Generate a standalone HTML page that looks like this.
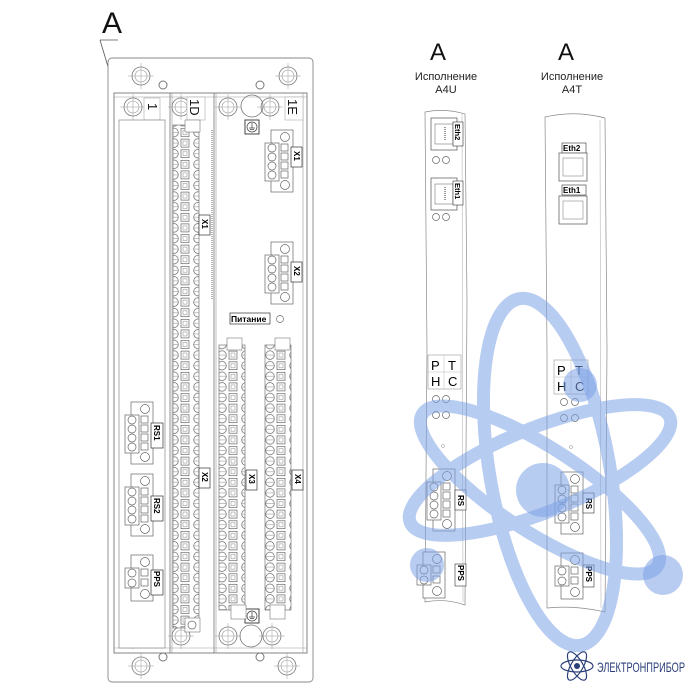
<!DOCTYPE html>
<html><head><meta charset="utf-8"><style>
html,body{margin:0;padding:0;background:#fff;width:700px;height:700px;overflow:hidden}
svg text{font-family:"Liberation Sans",sans-serif}
</style></head><body>
<svg width="700" height="700" viewBox="0 0 700 700" xmlns="http://www.w3.org/2000/svg">
<defs>
<pattern id="term" x="0" y="0" width="24" height="10.6" patternUnits="userSpaceOnUse">
<rect x="0" y="0" width="24" height="10.6" fill="#fff"/>
<circle cx="6" cy="5.3" r="4.3" fill="none" stroke="#666" stroke-width="0.7"/>
<line x1="1.7" y1="5.3" x2="10.3" y2="5.3" stroke="#888" stroke-width="0.5"/>
<rect x="13" y="1.3" width="8" height="8" fill="none" stroke="#666" stroke-width="0.7"/>
<rect x="15" y="3.3" width="4" height="4" fill="none" stroke="#888" stroke-width="0.5"/>
</pattern>
<g id="c4">
<rect x="6" y="0" width="22" height="62" fill="#fff" stroke="#666" stroke-width="0.7"/>
<circle cx="20" cy="7" r="4.5" fill="none" stroke="#666" stroke-width="0.7"/>
<circle cx="20" cy="55" r="4.5" fill="none" stroke="#666" stroke-width="0.7"/>
<rect x="0" y="13" width="14" height="38" fill="#fff" stroke="#666" stroke-width="0.7"/>
<circle cx="7" cy="18" r="4" fill="none" stroke="#666" stroke-width="0.7"/>
<circle cx="7" cy="27" r="4" fill="none" stroke="#666" stroke-width="0.7"/>
<circle cx="7" cy="36" r="4" fill="none" stroke="#666" stroke-width="0.7"/>
<circle cx="7" cy="45" r="4" fill="none" stroke="#666" stroke-width="0.7"/>
<rect x="16" y="14" width="7" height="7" fill="none" stroke="#666" stroke-width="0.7"/>
<rect x="16" y="23" width="7" height="7" fill="none" stroke="#666" stroke-width="0.7"/>
<rect x="16" y="32" width="7" height="7" fill="none" stroke="#666" stroke-width="0.7"/>
<rect x="16" y="41" width="7" height="7" fill="none" stroke="#666" stroke-width="0.7"/>
</g>
<g id="c2">
<rect x="6" y="0" width="22" height="46" fill="#fff" stroke="#666" stroke-width="0.7"/>
<circle cx="20" cy="7" r="4.5" fill="none" stroke="#666" stroke-width="0.7"/>
<circle cx="20" cy="39" r="4.5" fill="none" stroke="#666" stroke-width="0.7"/>
<rect x="0" y="13" width="14" height="20" fill="#fff" stroke="#666" stroke-width="0.7"/>
<circle cx="7" cy="18" r="4" fill="none" stroke="#666" stroke-width="0.7"/>
<circle cx="7" cy="28" r="4" fill="none" stroke="#666" stroke-width="0.7"/>
<rect x="16" y="14" width="7" height="7" fill="none" stroke="#666" stroke-width="0.7"/>
<rect x="16" y="24" width="7" height="7" fill="none" stroke="#666" stroke-width="0.7"/>
</g>
<g id="hole"><circle r="9" fill="none" stroke="#777" stroke-width="0.8"/><circle r="6" fill="none" stroke="#999" stroke-width="0.6"/><line x1="-13" y1="0" x2="13" y2="0" stroke="#999" stroke-width="0.5"/><line x1="0" y1="-13" x2="0" y2="13" stroke="#999" stroke-width="0.5"/></g>
<g id="gnd"><rect x="-7" y="-7" width="14" height="14" fill="#fff" stroke="#333" stroke-width="0.9"/><circle r="5" fill="none" stroke="#333" stroke-width="0.7"/><line x1="0" y1="-4" x2="0" y2="1" stroke="#333" stroke-width="0.7"/><line x1="-3" y1="1" x2="3" y2="1" stroke="#333" stroke-width="0.7"/><line x1="-2" y1="2.5" x2="2" y2="2.5" stroke="#333" stroke-width="0.7"/></g>
<g id="rj"><rect x="0" y="0" width="26" height="32" fill="#fff" stroke="#666" stroke-width="0.8"/><rect x="4" y="6" width="18" height="20" fill="none" stroke="#777" stroke-width="0.6"/><line x1="14" y1="9" x2="14" y2="23" stroke="#999" stroke-width="2" stroke-dasharray="1 1"/></g>
</defs>

<!-- Main chassis -->
<text x="102" y="33" font-size="30" fill="#111">A</text>
<line x1="100" y1="40" x2="124" y2="120" stroke="#555" stroke-width="0.8"/>
<line x1="100" y1="40" x2="118" y2="40" stroke="#555" stroke-width="0.8"/>
<rect x="108" y="58" width="205" height="624" rx="4" fill="#fff" stroke="#888" stroke-width="0.9"/>
<use href="#hole" x="141" y="76"/><use href="#hole" x="288" y="76"/>
<use href="#hole" x="141" y="666"/><use href="#hole" x="287" y="666"/>
<circle cx="163" cy="85" r="4" fill="none" stroke="#777" stroke-width="1"/>
<circle cx="260" cy="85" r="4" fill="none" stroke="#777" stroke-width="1"/>
<circle cx="163" cy="657" r="4" fill="none" stroke="#777" stroke-width="1"/>
<circle cx="260" cy="657" r="4" fill="none" stroke="#777" stroke-width="1"/>
<rect x="114" y="93" width="193" height="560" fill="none" stroke="#777" stroke-width="0.9"/>
<line x1="114" y1="97" x2="307" y2="97" stroke="#999" stroke-width="0.6"/>
<line x1="114" y1="648" x2="307" y2="648" stroke="#999" stroke-width="0.6"/>
<line x1="170" y1="93" x2="170" y2="653" stroke="#777" stroke-width="0.8"/>
<line x1="172" y1="93" x2="172" y2="653" stroke="#999" stroke-width="0.6"/>
<line x1="214" y1="93" x2="214" y2="653" stroke="#777" stroke-width="0.8"/>
<line x1="216" y1="93" x2="216" y2="653" stroke="#999" stroke-width="0.6"/>
<line x1="303" y1="93" x2="303" y2="653" stroke="#999" stroke-width="0.6"/>
<!-- top screws -->
<use href="#hole" x="133" y="107"/><use href="#hole" x="181" y="107"/><use href="#hole" x="228" y="107"/><use href="#hole" x="270" y="107"/>
<circle cx="252" cy="106" r="11" fill="none" stroke="#777" stroke-width="0.8"/>
<use href="#hole" x="133" y="636"/><use href="#hole" x="181" y="636"/><use href="#hole" x="228" y="636"/><use href="#hole" x="272" y="636"/>
<circle cx="251" cy="636" r="11" fill="none" stroke="#777" stroke-width="0.8"/>
<!-- labels -->
<rect x="144" y="98" width="16" height="22" fill="#fff" stroke="#aaa" stroke-width="0.6"/>
<text transform="translate(148,103) rotate(90)" font-size="13" fill="#111">1</text>
<rect x="187" y="97" width="18" height="23" fill="#fff" stroke="#aaa" stroke-width="0.6"/>
<text transform="translate(190,99) rotate(90)" font-size="13" fill="#111">1D</text>
<rect x="285" y="97" width="18" height="23" fill="#fff" stroke="#aaa" stroke-width="0.6"/>
<text transform="translate(288,99) rotate(90)" font-size="13" fill="#111">1E</text>
<use href="#gnd" x="252" y="127"/>
<use href="#gnd" x="252" y="616"/>
<!-- slot 1 -->
<rect x="119" y="120" width="46" height="528" fill="#fff" stroke="#888" stroke-width="0.7"/>
<use href="#c4" x="125" y="402"/>
<rect x="151" y="423" width="12" height="25" fill="#fff" stroke="#333" stroke-width="0.7"/>
<text transform="translate(154,425) rotate(90)" font-size="8" font-weight="bold">RS1</text>
<use href="#c4" x="125" y="474"/>
<rect x="151" y="496" width="12" height="25" fill="#fff" stroke="#333" stroke-width="0.7"/>
<text transform="translate(154,498) rotate(90)" font-size="8" font-weight="bold">RS2</text>
<use href="#c2" x="125" y="555"/>
<rect x="151" y="570" width="12" height="25" fill="#fff" stroke="#333" stroke-width="0.7"/>
<text transform="translate(154,571) rotate(90)" font-size="8" font-weight="bold">PPS</text>
<!-- slot 1D columns -->
<rect x="173" y="125" width="26" height="503" fill="url(#term)" stroke="#777" stroke-width="0.7"/>
<rect x="185" y="120" width="15" height="12" fill="#fff" stroke="#777" stroke-width="0.6"/>
<rect x="185" y="618" width="15" height="14" fill="#fff" stroke="#777" stroke-width="0.6"/>
<circle cx="192" cy="625" r="4" fill="none" stroke="#666" stroke-width="0.7"/>
<rect x="199" y="215" width="11" height="20" fill="#fff" stroke="#333" stroke-width="0.7"/>
<text transform="translate(202,219) rotate(90)" font-size="8" font-weight="bold">X1</text>
<rect x="199" y="468" width="11" height="20" fill="#fff" stroke="#333" stroke-width="0.7"/>
<text transform="translate(202,472) rotate(90)" font-size="8" font-weight="bold">X2</text>
<!-- slot 1E -->
<line x1="212" y1="130" x2="212" y2="300" stroke="#666" stroke-width="1" stroke-dasharray="1 1"/>
<use href="#c4" x="265" y="130" transform="scale(1)"/>
<rect x="291" y="147" width="11" height="20" fill="#fff" stroke="#333" stroke-width="0.7"/>
<text transform="translate(294,151) rotate(90)" font-size="8" font-weight="bold">X1</text>
<use href="#c4" x="265" y="242"/>
<rect x="291" y="262" width="11" height="20" fill="#fff" stroke="#333" stroke-width="0.7"/>
<text transform="translate(294,266) rotate(90)" font-size="8" font-weight="bold">X2</text>
<rect x="230" y="313" width="40" height="11" fill="#fff" stroke="#333" stroke-width="0.7"/>
<text x="231" y="322" font-size="8.5" font-weight="bold">Питание</text>
<circle cx="280" cy="319" r="3.5" fill="none" stroke="#777" stroke-width="0.7"/>
<rect x="219" y="345" width="26" height="265" fill="url(#term)" stroke="#777" stroke-width="0.7"/>
<rect x="227" y="338" width="15" height="12" fill="#fff" stroke="#777" stroke-width="0.6"/>
<rect x="231" y="605" width="15" height="14" fill="#fff" stroke="#777" stroke-width="0.6"/>
<rect x="246" y="470" width="11" height="20" fill="#fff" stroke="#333" stroke-width="0.7"/>
<text transform="translate(249,474) rotate(90)" font-size="8" font-weight="bold">X3</text>
<rect x="265" y="345" width="26" height="265" fill="url(#term)" stroke="#777" stroke-width="0.7"/>
<rect x="275" y="338" width="15" height="12" fill="#fff" stroke="#777" stroke-width="0.6"/>
<rect x="270" y="605" width="15" height="14" fill="#fff" stroke="#777" stroke-width="0.6"/>
<rect x="292" y="470" width="11" height="20" fill="#fff" stroke="#333" stroke-width="0.7"/>
<text transform="translate(295,474) rotate(90)" font-size="8" font-weight="bold">X4</text>

<!-- A4U -->
<text x="430" y="60" font-size="24" fill="#111">A</text>
<text x="446" y="80" font-size="11" text-anchor="middle" fill="#222">Исполнение</text>
<text x="446" y="93" font-size="11" text-anchor="middle" fill="#222">A4U</text>
<path d="M425 112 Q445 108 465 114 L467 300 L465 605 Q445 598 425 602 L427 350 Z" fill="#fff" stroke="#888" stroke-width="0.7"/>
<line x1="462" y1="114" x2="463" y2="602" stroke="#aaa" stroke-width="0.5"/>
<use href="#rj" x="431" y="118"/>
<rect x="453" y="122" width="10" height="24" fill="#fff" stroke="#333" stroke-width="0.6"/>
<text transform="translate(455,124) rotate(90)" font-size="7.5" font-weight="bold">Eth2</text>
<circle cx="436" cy="160" r="3.5" fill="none" stroke="#666" stroke-width="0.7"/><circle cx="446" cy="160" r="3.5" fill="none" stroke="#666" stroke-width="0.7"/>
<use href="#rj" x="431" y="178"/>
<rect x="453" y="181" width="10" height="24" fill="#fff" stroke="#333" stroke-width="0.6"/>
<text transform="translate(455,183) rotate(90)" font-size="7.5" font-weight="bold">Eth1</text>
<circle cx="436" cy="217" r="3.5" fill="none" stroke="#666" stroke-width="0.7"/><circle cx="446" cy="217" r="3.5" fill="none" stroke="#666" stroke-width="0.7"/>
<rect x="428" y="355" width="33" height="34" fill="#fff" stroke="#999" stroke-width="0.6"/>
<line x1="444" y1="355" x2="444" y2="389" stroke="#bbb" stroke-width="0.5"/><line x1="428" y1="372" x2="461" y2="372" stroke="#bbb" stroke-width="0.5"/>
<text x="431" y="370" font-size="13">P</text><text x="448" y="370" font-size="13">T</text>
<text x="431" y="386" font-size="13">H</text><text x="448" y="386" font-size="13">C</text>
<circle cx="436" cy="399" r="3.5" fill="none" stroke="#666" stroke-width="0.7"/><circle cx="446" cy="399" r="3.5" fill="none" stroke="#666" stroke-width="0.7"/>
<circle cx="436" cy="415" r="3.5" fill="none" stroke="#666" stroke-width="0.7"/><circle cx="446" cy="415" r="3.5" fill="none" stroke="#666" stroke-width="0.7"/>
<circle cx="443" cy="446" r="1.5" fill="none" stroke="#888" stroke-width="0.5"/>
<use href="#c4" x="427" y="469"/>
<rect x="455" y="490" width="11" height="20" fill="#fff" stroke="#333" stroke-width="0.6"/>
<text transform="translate(458,495) rotate(90)" font-size="8" font-weight="bold">RS</text>
<use href="#c2" x="417" y="552"/>
<rect x="455" y="564" width="11" height="22" fill="#fff" stroke="#333" stroke-width="0.6"/>
<text transform="translate(458,565) rotate(90)" font-size="8" font-weight="bold">PPS</text>

<!-- A4T -->
<text x="558" y="60" font-size="24" fill="#111">A</text>
<text x="572" y="80" font-size="11" text-anchor="middle" fill="#222">Исполнение</text>
<text x="572" y="93" font-size="11" text-anchor="middle" fill="#222">A4T</text>
<path d="M545 117 Q575 110 605 118 L607 350 L605 612 Q575 605 547 608 L547 350 Z" fill="#fff" stroke="#888" stroke-width="0.7"/>
<line x1="600" y1="120" x2="601" y2="608" stroke="#aaa" stroke-width="0.5"/>
<rect x="562" y="143" width="24" height="10" fill="#fff" stroke="#333" stroke-width="0.6"/>
<text x="563" y="151" font-size="8" font-weight="bold">Eth2</text>
<rect x="559" y="153" width="28" height="28" fill="#fff" stroke="#666" stroke-width="0.8"/>
<rect x="563" y="158" width="20" height="18" fill="none" stroke="#888" stroke-width="0.6"/>
<rect x="562" y="185" width="24" height="10" fill="#fff" stroke="#333" stroke-width="0.6"/>
<text x="563" y="193" font-size="8" font-weight="bold">Eth1</text>
<rect x="559" y="196" width="28" height="28" fill="#fff" stroke="#666" stroke-width="0.8"/>
<rect x="563" y="201" width="20" height="18" fill="none" stroke="#888" stroke-width="0.6"/>
<rect x="554" y="360" width="34" height="34" fill="#fff" stroke="#999" stroke-width="0.6"/>
<line x1="571" y1="360" x2="571" y2="394" stroke="#bbb" stroke-width="0.5"/><line x1="554" y1="377" x2="588" y2="377" stroke="#bbb" stroke-width="0.5"/>
<text x="557" y="375" font-size="13">P</text><text x="575" y="375" font-size="13">T</text>
<text x="557" y="391" font-size="13">H</text><text x="575" y="391" font-size="13">C</text>
<circle cx="564" cy="402" r="3.5" fill="none" stroke="#666" stroke-width="0.7"/><circle cx="575" cy="402" r="3.5" fill="none" stroke="#666" stroke-width="0.7"/>
<circle cx="564" cy="418" r="3.5" fill="none" stroke="#666" stroke-width="0.7"/><circle cx="575" cy="418" r="3.5" fill="none" stroke="#666" stroke-width="0.7"/>
<circle cx="571" cy="447" r="1.5" fill="none" stroke="#888" stroke-width="0.5"/>
<use href="#c4" x="555" y="472"/>
<rect x="583" y="493" width="11" height="20" fill="#fff" stroke="#333" stroke-width="0.6"/>
<text transform="translate(586,498) rotate(90)" font-size="8" font-weight="bold">RS</text>
<use href="#c2" x="555" y="553"/>
<rect x="583" y="565" width="11" height="22" fill="#fff" stroke="#333" stroke-width="0.6"/>
<text transform="translate(586,566) rotate(90)" font-size="8" font-weight="bold">PPS</text>

<!-- watermark atom -->
<g fill="none" stroke="#7ea3e6" stroke-width="13" opacity="0.55">
<ellipse cx="550" cy="472" rx="60" ry="176" transform="rotate(-10 550 472)"/>
<ellipse cx="540" cy="490" rx="140" ry="42" transform="rotate(33 540 490)"/>
<ellipse cx="540" cy="470" rx="140" ry="42" transform="rotate(-22 540 470)"/>
</g>
<g fill="#7ea3e6" opacity="0.55">
<circle cx="543" cy="490" r="27"/>
<circle cx="580" cy="385" r="17"/>
<circle cx="663" cy="575" r="20"/>
<circle cx="427" cy="565" r="17"/>
</g>

<!-- logo -->
<g fill="none" stroke="#2b3f78" stroke-width="1.2">
<ellipse cx="577" cy="666" rx="16" ry="6"/>
<ellipse cx="577" cy="666" rx="16" ry="6" transform="rotate(60 577 666)"/>
<ellipse cx="577" cy="666" rx="16" ry="6" transform="rotate(-60 577 666)"/>
</g>
<circle cx="577" cy="666" r="3" fill="#2b3f78"/>
<text x="597" y="672" font-size="14" fill="#2b3f78" textLength="88" lengthAdjust="spacingAndGlyphs">ЭЛЕКТРОНПРИБОР</text>
</svg>
</body></html>
